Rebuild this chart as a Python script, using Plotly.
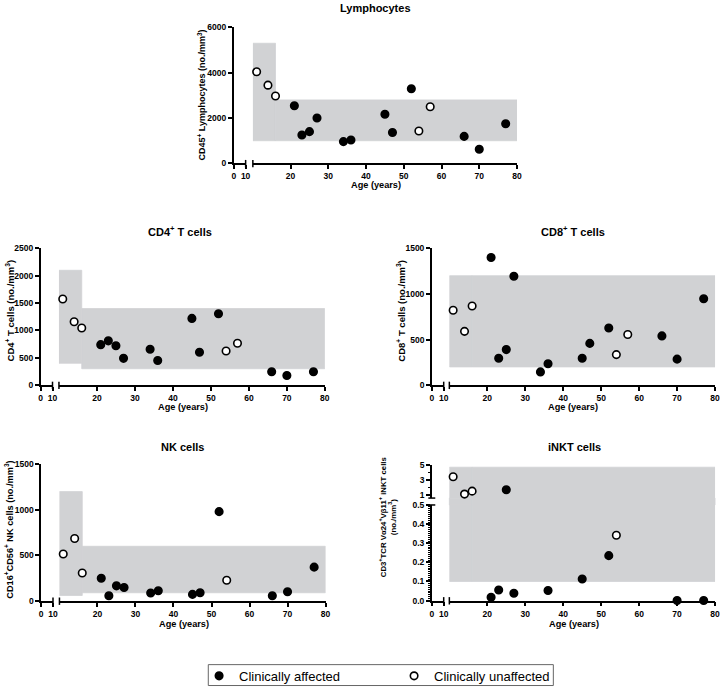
import plotly.graph_objects as go

W, H = 726, 692
FONT = "Arial, Liberation Sans, sans-serif"
BOX_COLOR = "#d1d2d4"

# ---------------- data ----------------
ages_affected = [21, 23, 25, 27, 34, 36, 45, 47, 52, 66, 70, 77]
ages_unaffected = [11, 14, 16, 54, 57]

lym_affected = [2540, 1250, 1400, 2000, 960, 1030, 2170, 1360, 3290, 1190, 620, 1750]
lym_unaffected = [4040, 3450, 2970, 1430, 2500]
lym_box_ped = [1000, 5300]
lym_box_adult = [1000, 2800]

cd4_affected = [740, 810, 720, 490, 655, 450, 1220, 600, 1305, 245, 175, 245]
cd4_unaffected = [1575, 1160, 1045, 625, 765]
cd4_box_ped = [400, 2100]
cd4_box_adult = [300, 1400]

cd8_affected = [1400, 295, 390, 1195, 145, 235, 295, 458, 627, 540, 285, 948]
cd8_unaffected = [822, 590, 868, 335, 555]
cd8_box_ped = [200, 1200]
cd8_box_adult = [200, 1200]

nk_ages_unaffected = [11, 14, 16, 54]
nk_affected = [250, 58, 166, 148, 87, 112, 72, 90, 980, 58, 101, 371]
nk_unaffected = [516, 685, 307, 227]
nk_box_ped = [60, 1200]
nk_box_adult = [90, 600]

inkt_ages_affected = [21, 23, 25, 27, 36, 45, 52, 70, 77]
inkt_affected = [0.017, 0.055, 1.70, 0.038, 0.053, 0.113, 0.235, 0.0, 0.0]
inkt_ages_unaffected = [11, 14, 16, 54]
inkt_unaffected = [3.43, 1.13, 1.52, 0.342]
inkt_box_ped = [0.1, 4.7]
inkt_box_adult = [0.1, 4.7]

ped_ages = [10, 16]
adult_ages = [16, 80]

x_seg_a = [0, 10]
x_seg_b = [10, 80]
x_ticks_a = [0, 10]
x_ticks_b = [20, 30, 40, 50, 60, 70, 80]

# ---------------- helpers ----------------
def fx(p):
    return p / W

def fy(p):
    return 1 - p / H

fig = go.Figure()
layout = dict(
    width=W, height=H,
    margin=dict(l=0, r=0, t=0, b=0),
    paper_bgcolor="white", plot_bgcolor="rgba(0,0,0,0)",
    font=dict(family=FONT, size=9, color="black", weight="bold"),
    showlegend=True,
)
shapes = []
annotations = []
xcount = [0]
ycount = [0]

def new_x():
    xcount[0] += 1
    return "" if xcount[0] == 1 else str(xcount[0])

def new_y():
    ycount[0] += 1
    return "" if ycount[0] == 1 else str(ycount[0])

def axis_common():
    return dict(showline=True, linecolor="black", linewidth=1.5, ticks="outside",
                ticklen=4, tickwidth=1.5, tickcolor="black", showgrid=False,
                zeroline=False, fixedrange=True,
                tickfont=dict(family=FONT, size=8.5, color="black", weight="bold"))

def add_panel(geo, title, ytitle, ytitle_x, ytitle_size, yranges, yticks, series, boxes,
              ytickformat=None, yminor=None):
    xa_id = new_x()
    xb_id = new_x()
    y_ids = [new_y() for _ in yranges]
    ya0 = "y" + y_ids[0]
    layout["xaxis" + xa_id] = dict(axis_common(), domain=[fx(geo["yx"]), fx(geo["a_end"])],
                                   range=x_seg_a, tickvals=x_ticks_a, anchor=ya0)
    layout["xaxis" + xb_id] = dict(axis_common(), domain=[fx(geo["b_start"]), fx(geo["b_end"])],
                                   range=x_seg_b, tickvals=x_ticks_b, anchor=ya0)
    for i, (rng, top_px, bot_px) in enumerate(yranges):
        ax = dict(axis_common(), domain=[fy(bot_px), fy(top_px)], range=rng,
                  tickvals=yticks[i], anchor="x" + xa_id)
        if ytickformat and ytickformat[i]:
            ax["tickformat"] = ytickformat[i]
        if yminor and yminor[i]:
            ax["minor"] = dict(dtick=yminor[i], ticklen=2, tickwidth=1, tickcolor="black",
                               ticks="outside", tick0=0)
        layout["yaxis" + y_ids[i]] = ax
        # empty trace so that the axis' main subplot is the (segment A, y) pair
        fig.add_trace(go.Scatter(x=[], y=[], xaxis="x" + xa_id, yaxis="y" + y_ids[i],
                                 mode="markers", showlegend=False, hoverinfo="skip"))
    # boxes (normal ranges)
    for (ages, vals) in boxes:
        for yid in y_ids:
            shapes.append(dict(type="rect", xref="x" + xb_id, yref="y" + yid,
                               x0=ages[0], x1=ages[1], y0=vals[0], y1=vals[1],
                               fillcolor=BOX_COLOR, line=dict(width=0.8, color=BOX_COLOR),
                               layer="below"))
    if len(y_ids) > 1:
        lo_top = fy(yranges[0][1])
        up_bot = fy(yranges[1][2])
        for (ages, vals) in boxes:
            if vals[0] <= yranges[0][0][1] and vals[1] >= yranges[1][0][0]:
                f0 = (ages[0] - x_seg_b[0]) / (x_seg_b[1] - x_seg_b[0])
                f1 = (ages[1] - x_seg_b[0]) / (x_seg_b[1] - x_seg_b[0])
                shapes.append(dict(type="rect", xref="x" + xb_id + " domain", yref="paper",
                                   x0=f0, x1=f1, y0=lo_top, y1=up_bot,
                                   fillcolor=BOX_COLOR, line=dict(width=0.8, color=BOX_COLOR),
                                   layer="below"))
        for p in (yranges[0][1], yranges[1][2]):
            shapes.append(dict(type="line", xref="paper", yref="paper",
                               x0=fx(geo["yx"] - 3.5), x1=fx(geo["yx"] + 3.5), y0=fy(p), y1=fy(p),
                               line=dict(color="black", width=1.5)))
    yb = geo["ybot"]
    for xp in (geo["a_end"], geo["b_start"]):
        shapes.append(dict(type="line", xref="paper", yref="paper",
                           x0=fx(xp), x1=fx(xp), y0=fy(yb - 3.5), y1=fy(yb + 4),
                           line=dict(color="black", width=1.5)))
    for (name, ages, vals, filled, show, lw) in series:
        if len(y_ids) == 1:
            groups = [(ages, vals, y_ids[0])]
        else:
            cut = yranges[0][0][1]
            lo = [(a, v) for a, v in zip(ages, vals) if v <= cut]
            hi = [(a, v) for a, v in zip(ages, vals) if v > cut]
            groups = [([a for a, _ in lo], [v for _, v in lo], y_ids[0]),
                      ([a for a, _ in hi], [v for _, v in hi], y_ids[1])]
        for gi, (gx, gy, yid) in enumerate(groups):
            fig.add_trace(go.Scatter(
                x=gx, y=gy, xaxis="x" + xb_id, yaxis="y" + yid, mode="markers",
                name=name, legendgroup=name, showlegend=(show and gi == 0),
                legendwidth=lw, cliponaxis=False,
                marker=dict(symbol="circle", size=7.5,
                            color="black" if filled else "white",
                            line=dict(color="black", width=1.6)),
            ))
    annotations.append(dict(text=title, x=fx(geo["tx"]), y=fy(geo["ty"]), xref="paper", yref="paper",
                            showarrow=False, xanchor="center", yanchor="middle",
                            font=dict(family=FONT, size=11, weight="bold", color="black")))
    annotations.append(dict(text="Age (years)", x=fx(geo["xtx"]), y=fy(geo["xty"]),
                            xref="paper", yref="paper", showarrow=False,
                            xanchor="center", yanchor="middle",
                            font=dict(family=FONT, size=9.2, weight="bold", color="black")))
    annotations.append(dict(text=ytitle, x=fx(ytitle_x), y=fy(geo["yty"]),
                            xref="paper", yref="paper", showarrow=False, textangle=-90,
                            xanchor="center", yanchor="middle",
                            font=dict(family=FONT, size=ytitle_size, weight="bold", color="black")))

A, U = "Clinically affected", "Clinically unaffected"

add_panel(dict(yx=234, a_end=246, b_start=253.3, b_end=520, ybot=160.7,
               tx=377, ty=3.5, xtx=378, xty=182.7, yty=91.7),
          "Lymphocytes", "CD45<sup>+</sup> Lymphocytes (no./mm<sup>3</sup>)", 202, 9,
          [([0, 6000], 22.7, 160.7)], [[0, 2000, 4000, 6000]],
          [(A, ages_affected, lym_affected, True, True, 150),
           (U, ages_unaffected, lym_unaffected, False, True, 118)],
          [(ped_ages, lym_box_ped), (adult_ages, lym_box_adult)])

add_panel(dict(yx=39, a_end=51, b_start=57.5, b_end=326, ybot=385.7,
               tx=180, ty=229, xtx=182.5, xty=408.3, yty=310),
          "CD4<sup>+</sup> T cells", "CD4<sup>+</sup> T cells (no./mm<sup>3</sup>)", 8, 9.5,
          [([0, 2500], 247, 385.7)], [[0, 500, 1000, 1500, 2000, 2500]],
          [(A, ages_affected, cd4_affected, True, False, None),
           (U, ages_unaffected, cd4_unaffected, False, False, None)],
          [(ped_ages, cd4_box_ped), (adult_ages, cd4_box_adult)])

add_panel(dict(yx=434, a_end=446, b_start=451.7, b_end=720, ybot=385.7,
               tx=576.7, ty=229, xtx=577, xty=408.3, yty=310),
          "CD8<sup>+</sup> T cells", "CD8<sup>+</sup> T cells (no./mm<sup>3</sup>)", 402, 9.5,
          [([0, 1500], 247, 385.7)], [[0, 500, 1000, 1500]],
          [(A, ages_affected, cd8_affected, True, False, None),
           (U, ages_unaffected, cd8_unaffected, False, False, None)],
          [(ped_ages, cd8_box_ped), (adult_ages, cd8_box_adult)])

add_panel(dict(yx=39.5, a_end=51.5, b_start=58, b_end=326.7, ybot=604.7,
               tx=182.7, ty=448.5, xtx=183.5, xty=628, yty=532),
          "NK cells", "CD16<sup>+</sup>CD56<sup>+</sup> NK cells (no./mm<sup>3</sup>)", 7.5, 9.2,
          [([0, 1500], 466, 604.7)], [[0, 500, 1000, 1500]],
          [(A, ages_affected, nk_affected, True, False, None),
           (U, nk_ages_unaffected, nk_unaffected, False, False, None)],
          [(ped_ages, nk_box_ped), (adult_ages, nk_box_adult)])

add_panel(dict(yx=434, a_end=446, b_start=451.7, b_end=720, ybot=604.3,
               tx=578, ty=448.5, xtx=578, xty=628, yty=519),
          "iNKT cells",
          "CD3<sup>+</sup>TCR Vα24<sup>+</sup>Vβ11<sup>+</sup> iNKT cells<br>(no./mm<sup>3</sup>)", 388.5, 7.8,
          [([0, 0.5], 507.3, 604.3), ([0.6, 5], 466.7, 500.3)],
          [[0, 0.1, 0.2, 0.3, 0.4, 0.5], [1, 3, 5]],
          [(A, inkt_ages_affected, inkt_affected, True, False, None),
           (U, inkt_ages_unaffected, inkt_unaffected, False, False, None)],
          [(ped_ages, inkt_box_ped), (adult_ages, inkt_box_adult)],
          ytickformat=[".1f", None], yminor=[0.01, 1])

# legend frame
shapes.append(dict(type="rect", xref="paper", yref="paper",
                   x0=fx(208.3), x1=fx(556.7), y0=fy(690.5), y1=fy(669.3),
                   line=dict(color="#666666", width=1), fillcolor="rgba(0,0,0,0)"))

layout["shapes"] = shapes
layout["annotations"] = annotations
layout["legend"] = dict(orientation="h", x=fx(199), y=fy(665.5), xanchor="left", yanchor="top",
                        borderwidth=0, bgcolor="rgba(0,0,0,0)",
                        font=dict(family=FONT, size=13, color="black", weight="normal"),
                        itemwidth=30, traceorder="normal")
fig.update_layout(**layout)
fig.write_html("out.html", config={"displayModeBar": False},
               post_script="document.body.style.margin='0';document.body.style.overflow='hidden';")
